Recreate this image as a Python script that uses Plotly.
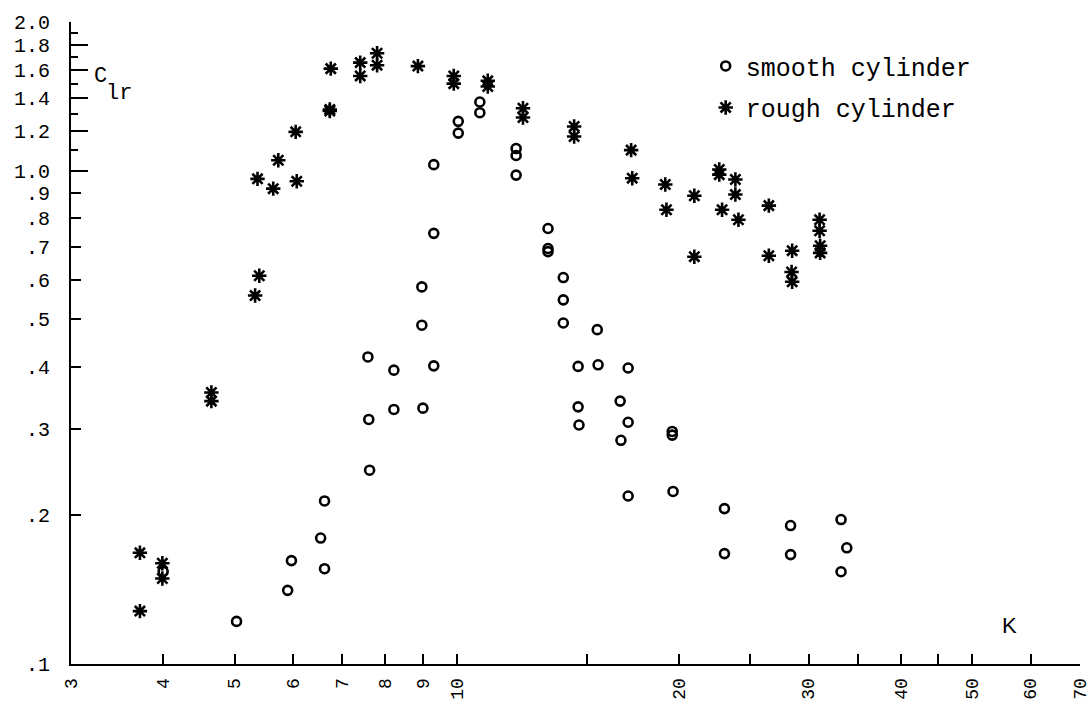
import plotly.graph_objects as go

# ---- data (K, C_lr) ----
smooth_k = [4.00, 5.03, 5.90, 5.97, 6.54, 6.62, 6.62, 7.58, 7.60, 7.62, 8.22, 8.22,
            8.97, 8.97, 9.00, 9.31, 9.31, 9.31, 10.05, 10.05, 10.75, 10.75,
            12.04, 12.04, 12.04, 13.30, 13.30, 13.30, 13.95, 13.95, 13.95,
            14.61, 14.61, 14.65, 15.51, 15.55, 16.66, 16.70, 17.08, 17.08, 17.08,
            19.6, 19.6, 19.65, 23.07, 23.07, 28.36, 28.36, 33.2, 33.8, 33.2]
smooth_c = [0.154, 0.122, 0.141, 0.162, 0.180, 0.156, 0.214, 0.419, 0.313, 0.247, 0.394, 0.328,
            0.581, 0.486, 0.330, 1.028, 0.746, 0.402, 1.258, 1.191, 1.377, 1.31,
            1.108, 1.073, 0.979, 0.763, 0.695, 0.685, 0.607, 0.547, 0.491,
            0.401, 0.332, 0.305, 0.476, 0.404, 0.341, 0.284, 0.398, 0.309, 0.219,
            0.296, 0.291, 0.2237, 0.2065, 0.1674, 0.1908, 0.1666, 0.1962, 0.172, 0.1538]

rough_k = [3.72, 3.72, 3.99, 3.99, 4.65, 4.65, 5.33, 5.40, 5.37, 5.64, 5.73, 6.07, 6.05,
           6.73, 6.73, 6.75, 7.40, 7.40, 7.80, 7.80, 8.86, 9.91, 9.91, 11.02, 11.02,
           12.30, 12.30, 14.43, 14.43, 17.24, 17.30, 19.18, 19.25, 21.0, 21.0,
           22.7, 22.7, 22.9, 23.87, 23.87, 24.1, 26.5, 26.5, 28.5, 28.45, 28.5,
           31.05, 31.05, 31.1, 31.1]
rough_c = [0.168, 0.128, 0.160, 0.149, 0.355, 0.341, 0.558, 0.612, 0.962, 0.919, 1.049, 0.951, 1.198,
           1.33, 1.32, 1.609, 1.655, 1.555, 1.729, 1.635, 1.628, 1.555, 1.500, 1.52, 1.48,
           1.337, 1.281, 1.228, 1.172, 1.100, 0.965, 0.937, 0.833, 0.889, 0.669,
           1.005, 0.981, 0.833, 0.959, 0.894, 0.795, 0.849, 0.672, 0.688, 0.623, 0.595,
           0.795, 0.755, 0.704, 0.681]

# ---- ticks ----
x_tickvals = [3, 4, 5, 6, 7, 8, 9, 10, 20, 30, 40, 50, 60, 70]
x_ticktext = ["3", "4", "5", "6", "7", "8", "9", "10", "20", "30", "40", "50", "60", "70"]
x_minor_ticks = [15, 25, 35, 45]

y_tickvals = [0.1, 0.2, 0.3, 0.4, 0.5, 0.6, 0.7, 0.8, 0.9, 1.0, 1.2, 1.4, 1.6, 1.8, 2.0]
y_ticktext = [".1", ".2", ".3", ".4", ".5", ".6", ".7", ".8", ".9",
              "1.0", "1.2", "1.4", "1.6", "1.8", "2.0"]
y_minor_ticks = [1.1, 1.3, 1.5, 1.7, 1.9]
y_long_ticks = [1.0, 1.2, 1.4, 1.6, 1.8, 2.0]

MONO = "Liberation Mono"

fig = go.Figure()
fig.add_trace(go.Scatter(
    x=smooth_k, y=smooth_c, mode="markers", name="smooth cylinder",
    legendgroup="a",
    marker=dict(symbol="circle-open", size=9, color="black", line=dict(width=2.6, color="black")),
))
fig.add_trace(go.Scatter(
    x=rough_k, y=rough_c, mode="markers", name="rough cylinder",
    legendgroup="b",
    marker=dict(symbol="asterisk-open", size=12, color="black", line=dict(width=2.6, color="black")),
))
# empty trace to carry the overlay axis used for the longer ticks
fig.add_trace(go.Scatter(x=[], y=[], yaxis="y2", showlegend=False, hoverinfo="skip"))

fig.update_layout(
    width=1091, height=704,
    margin=dict(l=71, r=11, t=22, b=40),
    paper_bgcolor="white", plot_bgcolor="white",
    showlegend=True,
    legend=dict(
        x=0.629, y=0.967, xanchor="left", yanchor="top",
        font=dict(family=MONO, size=25, color="black"),
        bgcolor="rgba(0,0,0,0)", tracegroupgap=6, traceorder="grouped",
    ),
    xaxis=dict(
        type="log", range=[0.47712, 1.84510], automargin=False,
        showgrid=False, zeroline=False,
        showline=True, linecolor="black", linewidth=2,
        ticks="inside", ticklen=10, tickwidth=1.5, tickcolor="black",
        tickmode="array", tickvals=x_tickvals, ticktext=x_ticktext,
        tickangle=-90, ticklabelstandoff=5, ticklabeloverflow="allow",
        tickfont=dict(family=MONO, size=18, color="black"),
        minor=dict(tickmode="array", tickvals=x_minor_ticks, ticks="inside",
                   ticklen=10, tickwidth=1.5, tickcolor="black", showgrid=False),
    ),
    yaxis=dict(
        type="log", range=[-1.0, 0.30103], automargin=False,
        showgrid=False, zeroline=False,
        showline=True, linecolor="black", linewidth=2,
        ticks="inside", ticklen=10, tickwidth=1.5, tickcolor="black",
        tickmode="array", tickvals=y_tickvals, ticktext=y_ticktext,
        ticklabelstandoff=15, ticklabeloverflow="allow",
        tickfont=dict(family=MONO, size=20, color="black"),
        minor=dict(tickmode="array", tickvals=y_minor_ticks, ticks="inside",
                   ticklen=7, tickwidth=1.5, tickcolor="black", showgrid=False),
    ),
    yaxis2=dict(
        type="log", range=[-1.0, 0.30103], overlaying="y", side="left", automargin=False,
        showgrid=False, zeroline=False, showline=False,
        ticks="inside", ticklen=17, tickwidth=1.5, tickcolor="black",
        tickmode="array", tickvals=y_long_ticks, showticklabels=False,
    ),
    annotations=[
        dict(text="C", xref="paper", yref="paper", x=0.0208, y=0.915,
             xanchor="left", yanchor="middle", showarrow=False,
             font=dict(family=MONO, size=22, color="black")),
        dict(text="lr", xref="paper", yref="paper", x=0.0327, y=0.889,
             xanchor="left", yanchor="middle", showarrow=False,
             font=dict(family=MONO, size=22, color="black")),
        dict(text="K", xref="paper", yref="paper", x=0.9306, y=0.0607,
             xanchor="center", yanchor="middle", showarrow=False,
             font=dict(family="Liberation Sans", size=22, color="black")),
    ],
)

fig.write_html("out.html")
